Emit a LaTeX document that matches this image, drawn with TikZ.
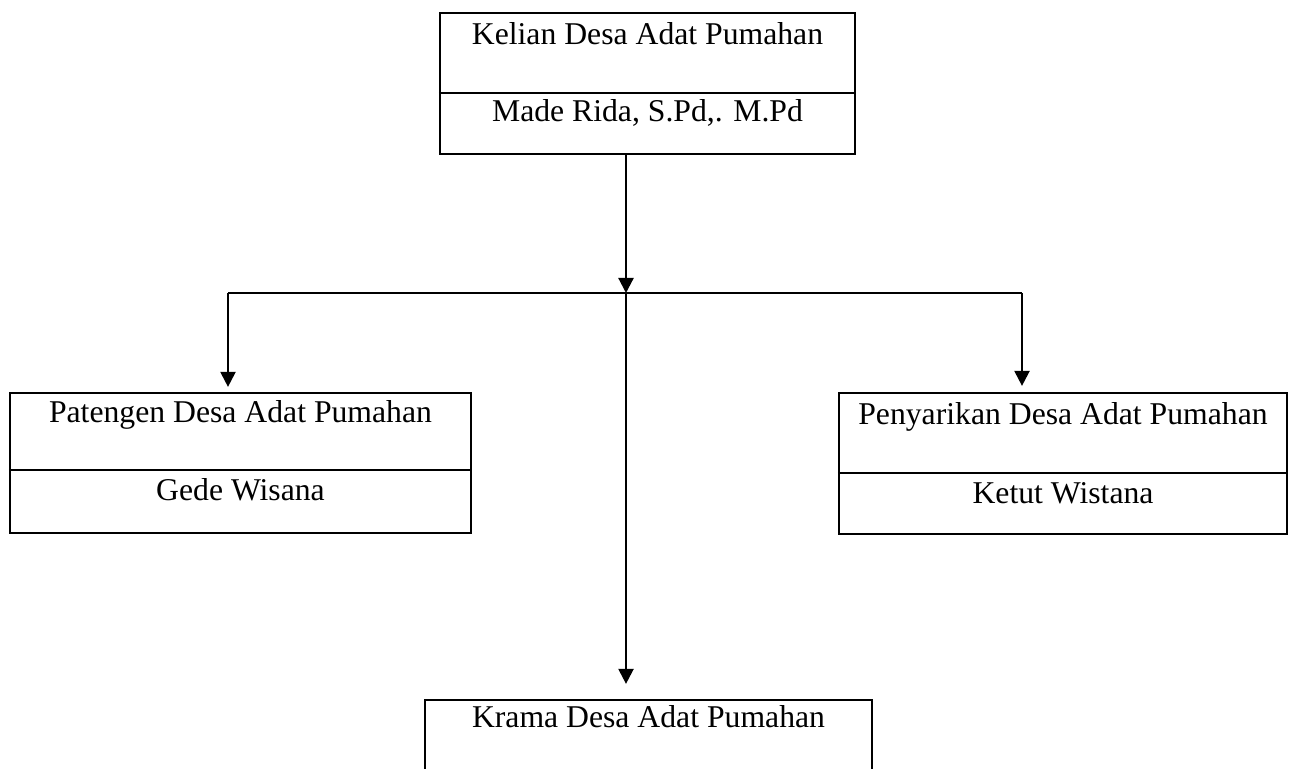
\documentclass[tikz,border=0pt]{standalone}
\usepackage{fontspec}
\setmainfont{Liberation Serif}
\usetikzlibrary{arrows.meta}
\begin{document}
\begin{tikzpicture}[x=0.5pt,y=-0.5pt,
  box/.style={draw,line width=1.1pt,inner sep=0pt,rectangle},
  lbl/.style={anchor=base,inner sep=0pt,font=\fontsize{15.85}{19}\selectfont},
  conn/.style={line width=1.1pt},
  arr/.style={conn,-{Triangle[width=7.5pt,length=7.5pt]}}]
\clip (0,0) rectangle (1289,769);
% top box
\node[box,minimum width=207.5pt,minimum height=70.5pt] (top) at (647.5,83.5) {};
\draw[conn] (top.west |- 0,93) coordinate (tdl) -- (top.east |- 0,93) coordinate (tdr);
\node[lbl] (t1) at (647.5,45) {Kelian Desa Adat Pumahan};
\node[lbl] (t2) at (647.5,121.5) {Made Rida, S.Pd,. M.Pd};
% left box
\node[box,minimum width=230.5pt,minimum height=70pt] (left) at (240.5,463) {};
\draw[conn] (left.west |- 0,470) coordinate (ldl) -- (left.east |- 0,470) coordinate (ldr);
\node[lbl] (l1) at (240.5,423) {Patengen Desa Adat Pumahan};
\node[lbl] (l2) at (240.5,501) {Gede Wisana};
% right box
\node[box,minimum width=224pt,minimum height=70.5pt] (right) at (1063,463.5) {};
\draw[conn] (right.west |- 0,473) coordinate (rdl) -- (right.east |- 0,473) coordinate (rdr);
\node[lbl] (r1) at (1063,425) {Penyarikan Desa Adat Pumahan};
\node[lbl] (r2) at (1063,503) {Ketut Wistana};
% bottom box (cut off by the page)
\node[box,minimum width=223.5pt,minimum height=60pt] (bot) at (648.5,760) {};
\node[lbl] (b1) at (648.5,727) {Krama Desa Adat Pumahan};
% connectors
\coordinate (j) at (626,293);
\coordinate (jl) at (228,293);
\coordinate (jr) at (1022,293);
\draw[arr] (top.south -| j) -- (j);
\draw[conn] (jl) -- (jr);
\draw[arr,shorten >=2.5pt] (jl) -- (left.north -| jl);
\draw[arr,shorten >=3pt] (jr) -- (right.north -| jr);
\draw[arr,shorten >=7.5pt] (j) -- (bot.north -| j);
\end{tikzpicture}
\end{document}
